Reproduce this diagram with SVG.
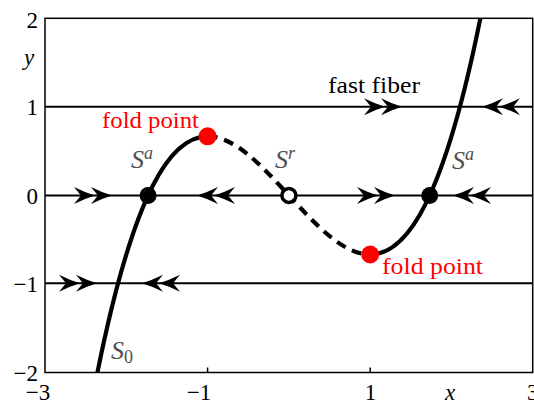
<svg xmlns="http://www.w3.org/2000/svg" xmlns:xlink="http://www.w3.org/1999/xlink" width="534" height="405" viewBox="0 0 534 405">
<style>
.tick{font-family:"Liberation Serif","DejaVu Serif",serif;font-size:23px;fill:#000}
.it{font-style:italic}
.lab{font-family:"Liberation Serif","DejaVu Serif",serif;font-style:italic;fill:#4d4d4d}
.red{font-family:"Liberation Serif","DejaVu Serif",serif;font-size:24px;fill:#ff0000}
.fiber{stroke:#000;stroke-width:2;fill:none}
.curve{stroke:#000;stroke-width:4.2;fill:none}
.ax{stroke:#000;stroke-width:1.5;fill:none}
</style>
<defs>
<path id="chev" d="M0,0 Q-10,-3 -21,-8.5 L-14,0 L-21,8.5 Q-10,3 0,0 Z" fill="#000"/>
<g id="dblR"><use xlink:href="#chev"/><use xlink:href="#chev" x="-17"/></g>
<g id="dblL" transform="scale(-1,1)"><use xlink:href="#chev"/><use xlink:href="#chev" x="-17"/></g>
</defs>
<rect width="534" height="405" fill="#fff"/>
<g id="axes">
<rect class="ax" x="45" y="18.3" width="487.7" height="354.2"/>
<path class="ax" d="M207.6,372.5 V367.5 M370.2,372.5 V367.5"/>
<text class="tick" x="38" y="28" text-anchor="end">2</text>
<text class="tick it" x="29" y="65" text-anchor="middle">y</text>
<text class="tick" x="38" y="115" text-anchor="end">1</text>
<text class="tick" x="38" y="204" text-anchor="end">0</text>
<text class="tick" x="38" y="292" text-anchor="end">−1</text>
<text class="tick" x="38" y="381" text-anchor="end">−2</text>
<text class="tick" x="38" y="400" text-anchor="middle">−3</text>
<text class="tick" x="199" y="400" text-anchor="middle">−1</text>
<text class="tick" x="370.5" y="400" text-anchor="middle">1</text>
<text class="tick it" x="450" y="400" text-anchor="middle">x</text>
<text class="tick" x="527" y="400">3</text>
</g>
<g id="connectors">
<path class="fiber" d="M45,106.7 H532.7 M45,195.4 H532.7 M45,283.3 H532.7"/>
<use xlink:href="#dblR" x="402" y="106.7"/>
<use xlink:href="#dblL" transform="translate(482,106.7)"/>
<use xlink:href="#dblR" x="112" y="195.4"/>
<use xlink:href="#dblL" transform="translate(197,195.4)"/>
<use xlink:href="#dblR" x="395" y="195.4"/>
<use xlink:href="#dblL" transform="translate(453,195.4)"/>
<use xlink:href="#dblR" x="97" y="283.3"/>
<use xlink:href="#dblL" transform="translate(142,283.3)"/>
<path id="S0-branch" class="curve" d="M97.4,372.6 C134.1,190.6 170.9,136.3 207.6,136.3"/>
<path id="Sr-branch" class="curve" stroke-dasharray="10 7" d="M207.6,136.3 C261.8,136.3 316,254.5 370.2,254.5"/>
<path id="Sa-branch" class="curve" d="M370.2,254.5 C406.9,254.5 443.7,200.2 480.4,18.2"/>
</g>
<g id="eq-left"><circle cx="148.1" cy="195.4" r="8.5" fill="#000"/></g>
<g id="eq-mid"><circle cx="288.9" cy="195.4" r="7" fill="#fff" stroke="#000" stroke-width="3.5"/></g>
<g id="eq-right"><circle cx="429.7" cy="195.4" r="8.5" fill="#000"/></g>
<g id="fold-top"><circle cx="207.6" cy="136.3" r="9" fill="#ff0000"/><text class="red" x="102" y="128" textLength="97" lengthAdjust="spacingAndGlyphs">fold point</text></g>
<g id="fold-bottom"><circle cx="370.2" cy="254.5" r="9" fill="#ff0000"/><text class="red" x="382" y="274" textLength="101" lengthAdjust="spacingAndGlyphs">fold point</text></g>
<g id="labels">
<text class="tick" x="328" y="93" fill="#1a1a1a" textLength="92" lengthAdjust="spacingAndGlyphs" style="font-style:normal">fast fiber</text>
<text class="lab" x="131" y="168" font-size="26">S<tspan font-size="18" dy="-9">a</tspan></text>
<text class="lab" x="275" y="168" font-size="26">S<tspan font-size="18" dy="-9">r</tspan></text>
<text class="lab" x="452" y="169" font-size="26">S<tspan font-size="18" dy="-9">a</tspan></text>
<text class="lab" x="111" y="359" font-size="26">S<tspan font-size="18" dy="4" style="font-style:normal">0</tspan></text>
</g>
</svg>
